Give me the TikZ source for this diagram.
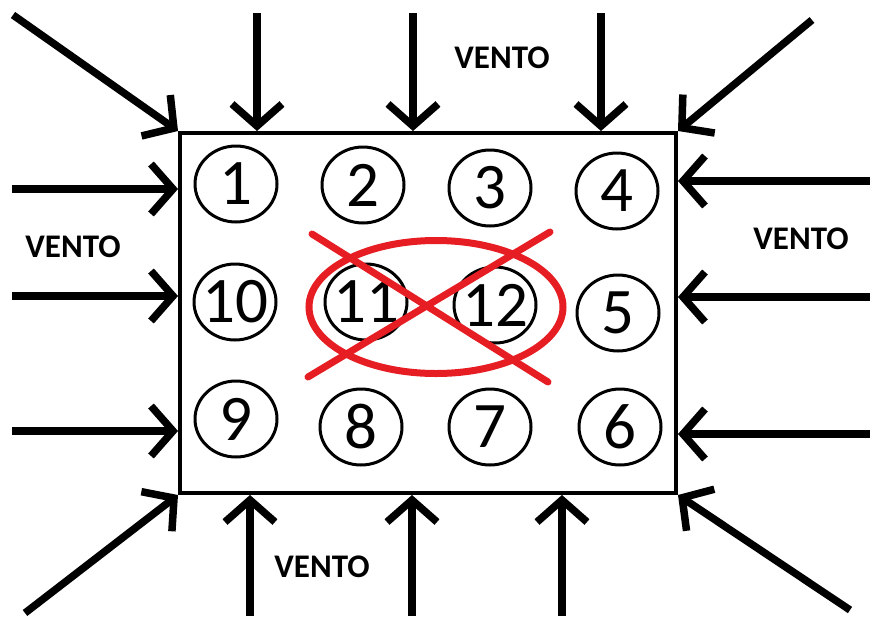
\documentclass[tikz,border=0pt]{standalone}
\usepackage{fontspec}
\setmainfont{Carlito}
\usetikzlibrary{arrows.meta,shapes.geometric}
\definecolor{paintred}{RGB}{230,30,36}
\tikzset{
  wind/.style={line width=7.5pt, -{Straight Barb[length=22pt, width=50pt]}},
  ring/.style={ellipse, draw, line width=3pt, minimum width=82pt, minimum height=76pt, inner sep=0pt},
  digit/.style={font=\fontsize{65}{65}\selectfont, inner sep=0pt},
  windlabel/.style={font=\fontsize{33}{33}\selectfont\bfseries, inner sep=0pt},
  cross/.style={line width=7pt, draw=paintred, line cap=round}
}
\begin{document}
\begin{tikzpicture}[x=1pt,y=-1pt]
\useasboundingbox (0,0) rectangle (870,616);
% main box
\node[draw, line width=4pt, minimum width=496pt, minimum height=360pt, inner sep=0pt] (box) at (428,313) {};
% circles
\node[ring, label={[digit]center:1}]  (n1)  at (236,184) {};
\node[ring, label={[digit]center:2}]  (n2)  at (363,185) {};
\node[ring, label={[digit]center:3}]  (n3)  at (490,188) {};
\node[ring, label={[digit]center:4}]  (n4)  at (617,191) {};
\node[ring, label={[digit]center:10}] (n10) at (235,302) {};
\node[ring, label={[digit]center:11}] (n11) at (366,302) {};
\node[ring, label={[digit]center:12}] (n12) at (495,305) {};
\node[ring, label={[digit]center:5}]  (n5)  at (618,313) {};
\node[ring, label={[digit]center:9}]  (n9)  at (236,419) {};
\node[ring, label={[digit]center:8}]  (n8)  at (361,427) {};
\node[ring, label={[digit]center:7}]  (n7)  at (490,427) {};
\node[ring, label={[digit]center:6}]  (n6)  at (620,427) {};
% red ellipse and cross
\node[ellipse, cross, minimum width=254pt, minimum height=133pt, inner sep=0pt] (redell) at (436,307) {};
\coordinate (xa1) at (312,234);
\coordinate (xa2) at (548,382);
\coordinate (xb1) at (550,232);
\coordinate (xb2) at (308,377);
\draw[cross] (xa1) -- (xa2);
\draw[cross] (xb1) -- (xb2);
% top arrows
\coordinate (t1) at (257,13);
\coordinate (t2) at (413,13);
\coordinate (t3) at (601,13);
\draw[wind] (t1) -- (t1 |- box.north);
\draw[wind] (t2) -- (t2 |- box.north);
\draw[wind] (t3) -- (t3 |- box.north);
% bottom arrows
\coordinate (b1) at (250,616);
\coordinate (b2) at (412,616);
\coordinate (b3) at (562,616);
\draw[wind] (b1) -- (b1 |- box.south);
\draw[wind] (b2) -- (b2 |- box.south);
\draw[wind] (b3) -- (b3 |- box.south);
% left arrows
\coordinate (l1) at (12,189);
\coordinate (l2) at (12,296);
\coordinate (l3) at (12,431);
\draw[wind] (l1) -- (l1 -| box.west);
\draw[wind] (l2) -- (l2 -| box.west);
\draw[wind] (l3) -- (l3 -| box.west);
% right arrows
\coordinate (r1) at (870,181);
\coordinate (r2) at (870,297);
\coordinate (r3) at (870,434);
\draw[wind] (r1) -- (r1 -| box.east);
\draw[wind] (r2) -- (r2 -| box.east);
\draw[wind] (r3) -- (r3 -| box.east);
% diagonal arrows
\coordinate (dtl) at (13,15);
\coordinate (dtr) at (812,20);
\coordinate (dbl) at (25,613);
\coordinate (dbr) at (850,610);
\draw[wind] (dtl) -- (box.north west);
\draw[wind] (dtr) -- (box.north east);
\draw[wind] (dbl) -- (box.south west);
\draw[wind] (dbr) -- (box.south east);
% labels
\node[windlabel] (vtop) at (502,58) {VENTO};
\node[windlabel] (vleft) at (73,247) {VENTO};
\node[windlabel] (vright) at (801,239) {VENTO};
\node[windlabel] (vbot) at (322,567) {VENTO};
\end{tikzpicture}
\end{document}
